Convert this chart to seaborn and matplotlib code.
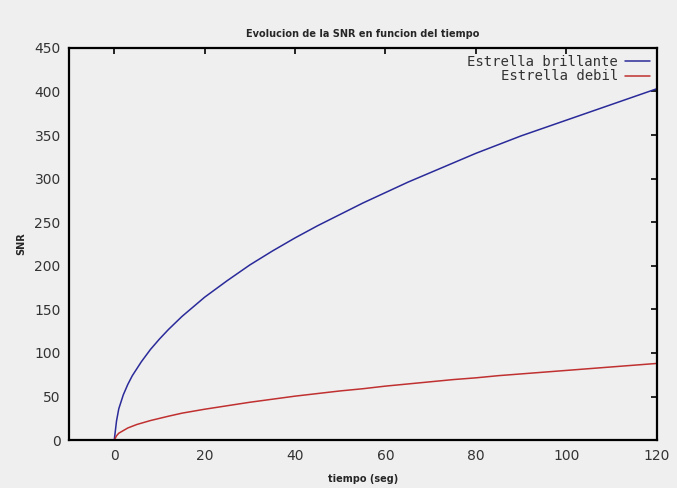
import numpy as np
import pandas as pd
import matplotlib
matplotlib.use("Agg")
import matplotlib.pyplot as plt
import seaborn as sns

sns.set_theme(style="white")
plt.rcParams['font.family'] = ['DejaVu Sans']

# valores
tiempo = [0, 0.5, 1, 2, 3, 4, 5, 6, 8, 10, 12, 15, 20, 25, 30, 35, 40, 45, 50, 55,
          60, 65, 70, 75, 80, 85, 90, 95, 100, 105, 110, 115, 120]
snr_brillante = [0, 22, 36, 52, 64, 74, 82, 90, 104, 116, 127, 142, 164, 183, 201, 217,
                 232, 246, 259, 272, 284, 296, 307, 318, 329, 339, 349, 358, 367, 376,
                 385, 394, 403]
snr_debil = [0, 5, 8, 11, 14, 16, 18, 19.5, 22.5, 25, 27.5, 31, 35.5, 39.5, 43.5, 47,
             50.5, 53.5, 56.5, 59, 62, 64.5, 67, 69.5, 71.5, 74, 76, 78, 80, 82, 84,
             86, 88]

df = pd.DataFrame({
    "tiempo": tiempo * 2,
    "SNR": snr_brillante + snr_debil,
    "serie": ["Estrella brillante"] * len(tiempo) + ["Estrella debil"] * len(tiempo),
})

bg = "#efefef"
fig = plt.figure(figsize=(6.77, 4.88), dpi=100, facecolor=bg)
ax = fig.add_axes([0.102, 0.098, 0.868, 0.804])
ax.set_facecolor(bg)

sns.lineplot(data=df, x="tiempo", y="SNR", hue="serie",
             palette={"Estrella brillante": "#2a2a9a", "Estrella debil": "#c03030"},
             linewidth=1.1, ax=ax)

ax.set_xlim(-10, 120)
ax.set_ylim(0, 450)
ax.set_xticks(range(0, 121, 20))
ax.set_yticks(range(0, 451, 50))
for s in ax.spines.values():
    s.set_color("black")
    s.set_linewidth(1.6)
ax.tick_params(direction="in", length=4, width=1.2, top=True, right=True,
               labelsize=10, colors="black", labelcolor="#333333", pad=6)

ax.set_xlabel("tiempo (seg)", fontsize=7, fontweight="bold", labelpad=8)
ax.set_ylabel("SNR", fontsize=7, fontweight="bold", labelpad=6)
ax.set_title("Evolucion de la SNR en funcion del tiempo", fontsize=7,
             fontweight="bold", pad=8)

leg = ax.legend(loc="upper right", frameon=False, markerfirst=False,
                prop={"family": "DejaVu Sans Mono", "size": 10},
                handlelength=1.8, borderaxespad=0.1, labelspacing=0.05,
                handletextpad=0.5)
for t in leg.get_texts():
    t.set_color("#333333")

fig.savefig("out.png", dpi=100, facecolor=bg)
